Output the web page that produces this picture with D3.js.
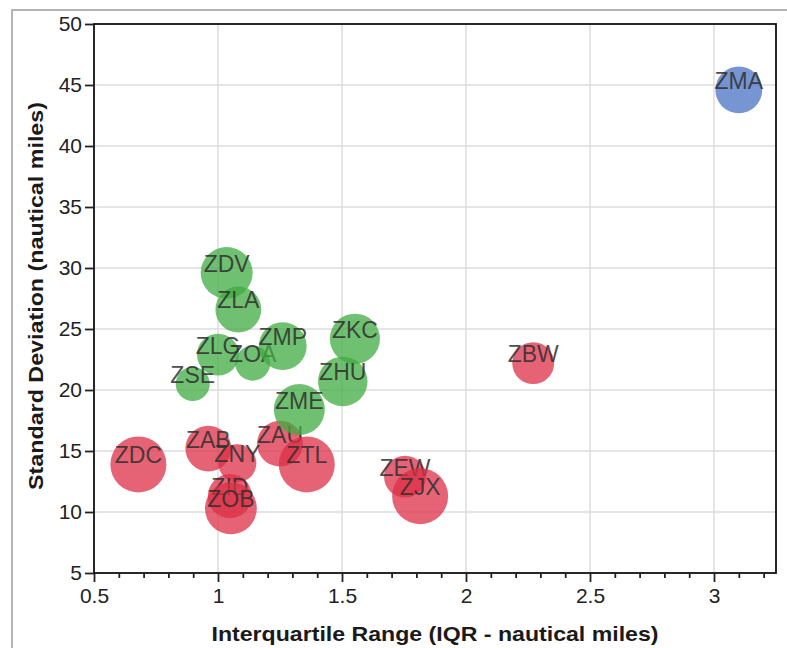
<!DOCTYPE html>
<html>
<head>
<meta charset="utf-8">
<script src="https://cdn.jsdelivr.net/npm/d3@7"></script>
<style>
  body { margin: 0; background: #fff; }
  svg { font-family: "Liberation Sans", Arial, sans-serif; }
</style>
</head>
<body>
<script>
// facility data: IQR vs standard deviation, bubble = traffic volume
const centers = ["ZMA", "ZDV", "ZLA", "ZLG", "ZOA", "ZMP", "ZKC", "ZSE", "ZHU", "ZAU",
  "ZME", "ZAB", "ZNY", "ZDC", "ZTL", "ZID", "ZOB", "ZBW", "ZEW", "ZJX"];
const iqr = [3.10, 1.035, 1.082, 1.00, 1.14, 1.261, 1.552, 0.898, 1.503, 1.25,
  1.328, 0.961, 1.078, 0.679, 1.358, 1.048, 1.052, 2.271, 1.754, 1.815];
const stdDev = [44.6, 29.6, 26.6, 22.9, 22.2, 23.6, 24.2, 20.5, 20.7, 15.6,
  18.4, 15.2, 14.0, 13.9, 13.9, 11.3, 10.3, 22.2, 12.9, 11.3];
const volume = [70, 86, 67, 56, 39, 73, 80, 37, 78, 67,
  83, 67, 46, 100, 100, 62, 86, 56, 56, 100];
const cluster = ["blue", "green", "green", "green", "green", "green", "green", "green", "green", "red",
  "green", "red", "red", "red", "red", "red", "red", "red", "red", "red"];

const xTicks = [0.5, 1, 1.5, 2, 2.5, 3];
const yTicks = [5, 10, 15, 20, 25, 30, 35, 40, 45, 50];

const width = 787;
const height = 648;
const margin = { top: 24, right: 11, bottom: 75, left: 94 };

const colors = { red: "#dc2f46", green: "#3fab40", blue: "#4a70c4" };

const data = centers.map((c, i) => ({
  name: c, x: iqr[i], y: stdDev[i], v: volume[i], g: cluster[i]
}));

const svg = d3.select("body").append("svg")
  .attr("width", width)
  .attr("height", height);

// outer panel border
svg.append("rect")
  .attr("x", 12).attr("y", 10)
  .attr("width", 800).attr("height", 700)
  .attr("fill", "none")
  .attr("stroke", "#b4b4b4")
  .attr("stroke-width", 2);

const xScale = d3.scaleLinear()
  .domain([0.5, 3.25])
  .range([margin.left, width - margin.right]);
const yScale = d3.scaleLinear()
  .domain([5, 50])
  .range([height - margin.bottom, margin.top]);
const rScale = d3.scaleSqrt()
  .domain([0, 100])
  .range([0, 28]);

// gridlines
svg.append("g")
  .selectAll("line")
  .data(xTicks.slice(1))
  .join("line")
  .attr("x1", d => xScale(d)).attr("x2", d => xScale(d))
  .attr("y1", margin.top).attr("y2", height - margin.bottom)
  .attr("stroke", "#dcdcdc")
  .attr("stroke-width", 1.5);

svg.append("g")
  .selectAll("line")
  .data(yTicks.slice(1, -1))
  .join("line")
  .attr("x1", margin.left).attr("x2", width - margin.right)
  .attr("y1", d => yScale(d)).attr("y2", d => yScale(d))
  .attr("stroke", "#dcdcdc")
  .attr("stroke-width", 1.5);

// bubbles, each with its own label so later ones cover earlier labels
const nodes = svg.append("g")
  .selectAll("g")
  .data(data)
  .join("g");

nodes.append("circle")
  .attr("cx", d => xScale(d.x))
  .attr("cy", d => yScale(d.y))
  .attr("r", d => rScale(d.v))
  .attr("fill", d => colors[d.g])
  .attr("fill-opacity", 0.75);

nodes.append("text")
  .attr("x", d => xScale(d.x))
  .attr("y", d => yScale(d.y) - 9)
  .attr("text-anchor", "middle")
  .attr("dominant-baseline", "central")
  .attr("font-size", 23)
  .attr("fill", "#2e2e2e")
  .attr("fill-opacity", 0.85)
  .text(d => d.name);

// plot frame
svg.append("rect")
  .attr("x", margin.left).attr("y", margin.top)
  .attr("width", width - margin.right - margin.left)
  .attr("height", height - margin.bottom - margin.top)
  .attr("fill", "none")
  .attr("stroke", "#111")
  .attr("stroke-width", 1.8);

// minor x ticks
const minor = d3.range(6, 33).map(d => d / 10).filter(d => !xTicks.includes(d));
svg.append("g")
  .attr("transform", `translate(0,${height - margin.bottom})`)
  .call(d3.axisBottom(xScale).tickValues(minor).tickSize(5).tickFormat(""))
  .call(g => g.select(".domain").remove())
  .call(g => g.selectAll("line").attr("stroke", "#222").attr("stroke-width", 1.8));

// x axis
svg.append("g")
  .attr("transform", `translate(0,${height - margin.bottom})`)
  .call(d3.axisBottom(xScale).tickValues(xTicks).tickSize(9).tickPadding(6).tickFormat(d3.format("")))
  .call(g => g.select(".domain").remove())
  .call(g => g.selectAll("line").attr("stroke", "#222").attr("stroke-width", 1.8))
  .call(g => g.selectAll("text")
    .attr("font-size", 21)
    .attr("fill", "#222")
    .attr("font-family", "'Liberation Sans', Arial, sans-serif"));

// y axis
svg.append("g")
  .attr("transform", `translate(${margin.left},0)`)
  .call(d3.axisLeft(yScale).tickValues(yTicks).tickSize(9).tickPadding(3))
  .call(g => g.select(".domain").remove())
  .call(g => g.selectAll("line").attr("stroke", "#222").attr("stroke-width", 1.8))
  .call(g => g.selectAll("text")
    .attr("font-size", 21)
    .attr("fill", "#222")
    .attr("font-family", "'Liberation Sans', Arial, sans-serif"));

// axis titles
svg.append("text")
  .attr("x", 435)
  .attr("y", 633)
  .attr("text-anchor", "middle")
  .attr("dominant-baseline", "central")
  .attr("font-size", 21)
  .attr("font-weight", "bold")
  .attr("fill", "#1a1a1a")
  .attr("textLength", 447)
  .attr("lengthAdjust", "spacingAndGlyphs")
  .text("Interquartile Range (IQR - nautical miles)");

svg.append("text")
  .attr("transform", "translate(35,296) rotate(-90)")
  .attr("text-anchor", "middle")
  .attr("dominant-baseline", "central")
  .attr("font-size", 21)
  .attr("font-weight", "bold")
  .attr("fill", "#1a1a1a")
  .attr("textLength", 388)
  .attr("lengthAdjust", "spacingAndGlyphs")
  .text("Standard Deviation (nautical miles)");
</script>
</body>
</html>
